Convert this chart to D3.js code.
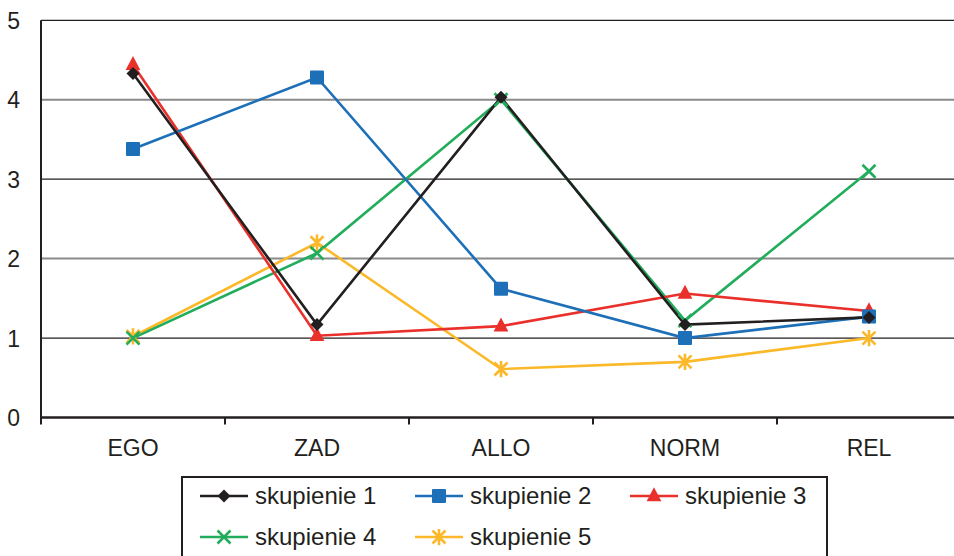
<!DOCTYPE html>
<html>
<head>
<meta charset="utf-8">
<script src="https://cdn.jsdelivr.net/npm/d3@7"></script>
<style>
  html, body { margin: 0; padding: 0; background: #fff; }
  svg { display: block; font-family: "Liberation Sans", Arial, sans-serif; }
</style>
</head>
<body>
<svg id="chart" width="954" height="556"></svg>
<script>
// Categories and cluster means
const categories = ["EGO", "ZAD", "ALLO", "NORM", "REL"];
const seriesNames = ["skupienie 1", "skupienie 2", "skupienie 3", "skupienie 4", "skupienie 5"];
const skupienie1 = [4.33, 1.17, 4.03, 1.17, 1.26];
const skupienie2 = [3.38, 4.28, 1.62, 1.00, 1.27];
const skupienie3 = [4.44, 1.03, 1.15, 1.56, 1.34];
const skupienie4 = [1.00, 2.07, 4.00, 1.22, 3.10];
const skupienie5 = [1.02, 2.20, 0.61, 0.70, 1.00];
const yTicks = [0, 1, 2, 3, 4, 5];

const seriesValues = [skupienie1, skupienie2, skupienie3, skupienie4, skupienie5];
const colors = ["#231f20", "#1d6fb8", "#e9302b", "#22ad5c", "#fbb829"];
const markers = ["diamond", "square", "triangle", "cross", "asterisk"];

const svg = d3.select("#chart");

const x = d3.scaleBand().domain(categories).range([41, 961]);
const y = d3.scaleLinear().domain([0, 5]).range([417.5, 20.3]);

// Horizontal gridlines
svg.append("g").selectAll("line")
  .data(yTicks.filter(d => d > 0))
  .join("line")
  .attr("x1", 41).attr("x2", 954)
  .attr("y1", d => y(d)).attr("y2", d => y(d))
  .attr("stroke", d => d % 2 === 0 ? "#8a8a8a" : "#231f20")
  .attr("stroke-width", d => d % 2 === 0 ? 2 : 1.3);

// Y axis
const yAxis = svg.append("g")
  .attr("transform", "translate(41,0)")
  .call(d3.axisLeft(y).tickValues(yTicks).tickSize(0).tickPadding(0).tickFormat(d3.format("d")));
yAxis.select(".domain").attr("stroke", "#231f20").attr("stroke-width", 2)
  .attr("d", `M0,${y(5)}V${y(0) + 7}`);
yAxis.selectAll("text")
  .attr("x", -21).attr("dy", "0.35em")
  .attr("font-size", 23).attr("fill", "#231f20")
  .attr("font-family", "Liberation Sans, Arial, sans-serif");

// X axis with ticks on category boundaries
const xAxis = svg.append("g").attr("transform", `translate(0,${y(0)})`);
xAxis.append("line")
  .attr("x1", 41).attr("x2", 954)
  .attr("stroke", "#231f20").attr("stroke-width", 2.4);
xAxis.selectAll("line.tick")
  .data(categories.slice(1))
  .join("line")
  .attr("class", "tick")
  .attr("x1", d => x(d)).attr("x2", d => x(d))
  .attr("y1", 0).attr("y2", 7)
  .attr("stroke", "#231f20").attr("stroke-width", 2);
xAxis.selectAll("text")
  .data(categories)
  .join("text")
  .attr("x", d => x(d) + x.bandwidth() / 2)
  .attr("y", 30)
  .attr("dy", "0.35em")
  .attr("text-anchor", "middle")
  .attr("font-size", 23)
  .attr("fill", "#231f20")
  .text(d => d);

// Marker shapes
function drawMarker(sel, type, color, s) {
  if (type === "diamond") {
    sel.append("path").attr("d", `M0,${-s}L${s},0L0,${s}L${-s},0Z`).attr("fill", color);
  } else if (type === "square") {
    sel.append("rect").attr("x", -s).attr("y", -s).attr("width", 2 * s).attr("height", 2 * s)
      .attr("rx", 1).attr("fill", color);
  } else if (type === "triangle") {
    sel.append("path").attr("d", `M0,${-s * 1.25}L${s * 1.05},${s * 0.75}L${-s * 1.05},${s * 0.75}Z`).attr("fill", color);
  } else if (type === "cross") {
    sel.append("path").attr("d", `M${-s},${-s}L${s},${s}M${-s},${s}L${s},${-s}`)
      .attr("stroke", color).attr("stroke-width", 2.6).attr("fill", "none");
  } else if (type === "asterisk") {
    sel.append("path").attr("d", `M${-s},${-s}L${s},${s}M${-s},${s}L${s},${-s}M0,${-s * 1.25}L0,${s * 1.25}`)
      .attr("stroke", color).attr("stroke-width", 2.6).attr("fill", "none");
  }
}
const markerSize = [6.5, 7, 7, 6.5, 6.5];

const line = d3.line()
  .x((d, i) => x(categories[i]) + x.bandwidth() / 2)
  .y(d => y(d));

// Series lines and markers (drawn last series first so series 1 sits on top)
const order = [4, 3, 2, 1, 0];
order.forEach(k => {
  svg.append("path")
    .datum(seriesValues[k])
    .attr("d", line)
    .attr("fill", "none")
    .attr("stroke", colors[k])
    .attr("stroke-width", 2.6);
});
order.forEach(k => {
  seriesValues[k].forEach((v, i) => {
    const m = svg.append("g")
      .attr("transform", `translate(${x(categories[i]) + x.bandwidth() / 2},${y(v)})`);
    drawMarker(m, markers[k], colors[k], markerSize[k]);
  });
});

// Legend: three evenly spaced columns, two rows
const legend = svg.append("g");
legend.append("rect")
  .attr("x", 182).attr("y", 477).attr("width", 645).attr("height", 100)
  .attr("fill", "#fff").attr("stroke", "#231f20").attr("stroke-width", 2);
const legendPos = [
  { x: 200, y: 496 }, { x: 415, y: 496 }, { x: 630, y: 496 },
  { x: 200, y: 537 }, { x: 415, y: 537 }
];
seriesNames.forEach((name, k) => {
  const p = legendPos[k];
  const g = legend.append("g").attr("transform", `translate(${p.x},${p.y})`);
  g.append("line").attr("x1", 0).attr("x2", 48)
    .attr("stroke", colors[k]).attr("stroke-width", 2.6);
  const m = g.append("g").attr("transform", "translate(24,0)");
  drawMarker(m, markers[k], colors[k], markerSize[k]);
  g.append("text")
    .attr("x", 55).attr("dy", "0.35em")
    .attr("font-size", 24).attr("fill", "#231f20")
    .text(name);
});
</script>
</body>
</html>
